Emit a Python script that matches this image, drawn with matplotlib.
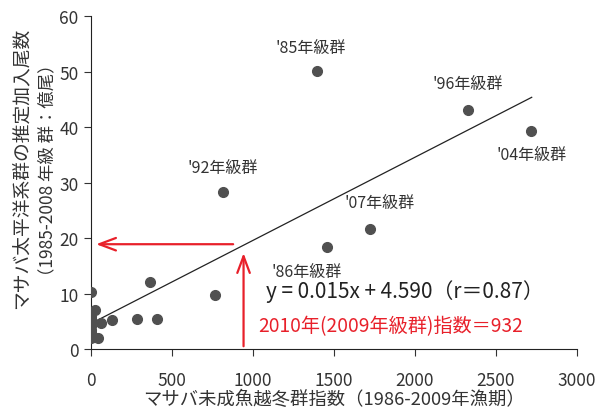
import matplotlib
matplotlib.use("Agg")
import matplotlib.pyplot as plt

plt.rcParams['font.family'] = ['Noto Sans CJK JP', 'DejaVu Sans']

# winter index (x) vs estimated recruitment (y, 100 million fish)
idx = [1393, 1459, 813, 2325, 2718, 1724,
       364, 767, 282, 409, 130, 62, 25, 41, 0,
       0, 0, 0, 0, 0, 0, 0, 0, 0]
rec = [50.1, 18.4, 28.3, 43.1, 39.3, 21.6,
       12.1, 9.8, 5.5, 5.5, 5.3, 4.7, 7.0, 1.9, 10.3,
       6.0, 5.5, 5.0, 4.2, 3.5, 3.0, 2.5, 2.2, 2.0]

labels = ["'85年級群", "'86年級群", "'92年級群", "'96年級群", "'04年級群", "'07年級群"]
label_off = [(-4, 17), (-15, -18), (0, 18), (0, 19), (0, -17), (7, 19)]

slope, intercept = 0.015, 4.590
fit_x = [0, 2720]
index_2010 = 932

fig = plt.figure(figsize=(5.98, 4.10), dpi=100)
ax = fig.add_axes([0.152, 0.1463, 0.813, 0.8115])

ax.plot(idx, rec, 'o', color='#505050', markersize=7, zorder=3)
ax.plot(fit_x, [slope * v + intercept for v in fit_x], color='#222222', lw=0.9)

for i, lab in enumerate(labels):
    ax.annotate(lab, (idx[i], rec[i]), xytext=label_off[i], textcoords='offset points',
                ha='center', va='center', fontsize=11.5, color='#333333')

red = '#e8202a'
ax.annotate('', xy=(15, 18.9), xytext=(895, 18.9),
            arrowprops=dict(arrowstyle='->,head_length=1.2,head_width=0.45', color=red, lw=1.6))
ax.annotate('', xy=(index_2010 + 10, 17.8), xytext=(index_2010 + 10, 0),
            arrowprops=dict(arrowstyle='->,head_length=1.2,head_width=0.45', color=red, lw=1.6))

ax.text(1940, 10.5, 'y = 0.015x + 4.590（r＝0.87）', ha='center', va='center',
        fontsize=15, color='#222222')
ax.text(1030, 4.3, '2010年(2009年級群)指数＝932', ha='left', va='center',
        fontsize=13.8, color=red)

ax.set_xlim(0, 3000)
ax.set_ylim(0, 60)
ax.set_xticks([0, 500, 1000, 1500, 2000, 2500, 3000])
ax.set_yticks([0, 10, 20, 30, 40, 50, 60])
for s in ['top', 'right']:
    ax.spines[s].set_visible(False)
for s in ['left', 'bottom']:
    ax.spines[s].set_color('#222222')
ax.tick_params(axis='x', direction='out', length=5, pad=11, labelsize=12.5, colors='#333333')
ax.tick_params(axis='y', direction='out', length=5, pad=4, labelsize=12.5, colors='#333333')

ax.set_xlabel('マサバ未成魚越冬群指数（1986-2009年漁期）', fontsize=13.2, color='#333333', labelpad=0)
fig.text(22 / 598, 0.59, 'マサバ太平洋系群の推定加入尾数', rotation=90, ha='center', va='center',
         fontsize=13.5, color='#333333')
fig.text(47 / 598, 0.585, '（1985-2008 年級 群：億尾）', rotation=90, ha='center', va='center',
         fontsize=12.5, color='#333333')

fig.savefig('out.png', dpi=100)
